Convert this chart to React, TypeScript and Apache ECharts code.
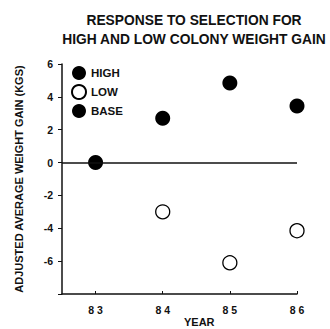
import React, { useEffect, useRef } from "react";
import * as echarts from "echarts";

const years = [83, 84, 85, 86];
const highYears = [84, 85, 86];
const highValues = [2.7, 4.85, 3.45];
const lowYears = [84, 85, 86];
const lowValues = [-3.0, -6.1, -4.15];
const baseYears = [83];
const baseValues = [0];
const yTicks = [6, 4, 2, 0, -2, -4, -6];

const FONT = "'Liberation Sans', Arial, Helvetica, sans-serif";

export default function App() {
  const ref = useRef<HTMLDivElement>(null);
  useEffect(() => {
    if (!ref.current) return;
    const chart = echarts.init(ref.current, null, { renderer: "svg" });
    const zip = (xs: number[], ys: number[]) => xs.map((x, i) => [x, ys[i]]);
    chart.setOption({
      animation: false,
      backgroundColor: "#ffffff",
      title: {
        text: "RESPONSE TO SELECTION FOR\nHIGH AND LOW COLONY WEIGHT GAIN",
        left: 189,
        top: 6,
        textAlign: "center",
        textStyle: {
          fontFamily: FONT,
          fontSize: 13.8,
          fontWeight: "bold",
          color: "#111",
          lineHeight: 19,
        },
      },
      legend: {
        orient: "vertical",
        left: 66,
        top: 61,
        itemWidth: 14,
        itemHeight: 14,
        itemGap: 4,
        icon: "circle",
        data: ["HIGH", "LOW", "BASE"],
        textStyle: { fontFamily: FONT, fontSize: 11.5, fontWeight: "bold", color: "#111" },
      },
      grid: { left: 62, right: 33, top: 64, bottom: 35, containLabel: false },
      xAxis: {
        type: "value",
        min: 82.5,
        max: 86,
        splitLine: { show: false },
        axisLine: { show: true, onZero: false, lineStyle: { color: "#111", width: 1.5 } },
        axisTick: {
          show: true,
          inside: true,
          length: 3,
          customValues: years,
          lineStyle: { color: "#111" },
        },
        axisLabel: {
          customValues: years,
          formatter: (v: number) => String(v).split("").join(" "),
          fontFamily: FONT,
          fontSize: 10.5,
          fontWeight: "bold",
          color: "#111",
          margin: 10,
        },
      },
      yAxis: {
        type: "value",
        min: -8,
        max: 6,
        interval: 2,
        name: "ADJUSTED AVERAGE WEIGHT GAIN (KGS)",
        nameLocation: "middle",
        nameGap: 38,
        nameTextStyle: { fontFamily: FONT, fontSize: 11, fontWeight: "bold", color: "#111" },
        splitLine: { show: false },
        axisLine: { show: true, onZero: false, lineStyle: { color: "#111", width: 1.5 } },
        axisTick: { show: true, length: 4, lineStyle: { color: "#111" } },
        axisLabel: {
          formatter: (v: number) => (yTicks.includes(v) ? String(v) : ""),
          fontFamily: FONT,
          fontSize: 10.5,
          fontWeight: "bold",
          color: "#111",
          margin: 9,
        },
      },
      graphic: [
        {
          type: "text",
          left: 184,
          top: 316,
          style: {
            text: "YEAR",
            font: `bold 11px ${FONT}`,
            fill: "#111",
          },
        },
      ],
      series: [
        {
          name: "HIGH",
          type: "scatter",
          symbol: "circle",
          symbolSize: 15,
          itemStyle: { color: "#000", opacity: 1 },
          data: zip(highYears, highValues),
          markLine: {
            silent: true,
            symbol: "none",
            label: { show: false },
            lineStyle: { color: "#111", width: 1.5, type: "solid" },
            data: [{ yAxis: 0 }],
          },
        },
        {
          name: "LOW",
          type: "scatter",
          symbol: "circle",
          symbolSize: 14,
          itemStyle: { color: "#fff", borderColor: "#000", borderWidth: 1.3, opacity: 1 },
          data: zip(lowYears, lowValues),
        },
        {
          name: "BASE",
          type: "scatter",
          symbol: "circle",
          symbolSize: 15,
          itemStyle: { color: "#000", opacity: 1 },
          data: zip(baseYears, baseValues),
        },
      ],
    });
    return () => chart.dispose();
  }, []);
  return <div ref={ref} style={{ width: 330, height: 329, position: "absolute", left: 0, top: 0 }} />;
}
